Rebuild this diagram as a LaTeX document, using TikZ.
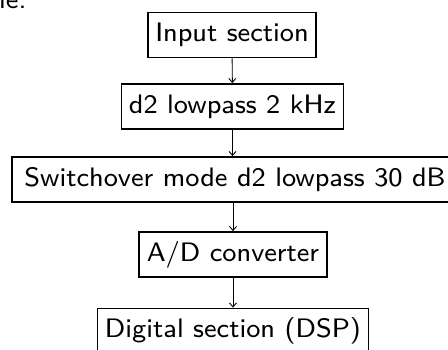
\documentclass[tikz,border=0pt]{standalone}
\usepackage{fontspec}
\usetikzlibrary{arrows.meta}
% Latin Modern Sans, 8pt optical design (wider letters), set large
\newfontfamily\stagefont{lmsans8-regular.otf}
\begin{document}
\begin{tikzpicture}[x=1pt,y=-1pt,
  stage/.style={draw, line width=1.8pt, minimum height=45pt, inner xsep=7.5pt,
    font=\stagefont\fontsize{26.7}{32}\selectfont},
  flow/.style={line width=0.9pt, -{Straight Barb[length=4pt,width=7pt]}}]
\useasboundingbox (0,0) rectangle (448,349);
\clip (0,0) rectangle (448,349);
\node[anchor=base west, inner sep=0pt, font=\stagefont\fontsize{26.7}{32}\selectfont] (prev) at (-1,8) {le.};
\node[stage] (in)  at (232,35)    {Input section};
\node[stage] (lp)  at (232.5,106.5) {d2 lowpass 2 kHz};
\node[stage, minimum width=446pt] (sw) at (235,179.5) {Switchover mode d2 lowpass 30 dB};
\node[stage] (ad)  at (233,254.5) {A/D converter};
\node[stage] (dsp) at (233,331)   {Digital section (DSP)};
\draw[flow] (in) -- (lp);
\draw[flow] (lp) -- (lp |- sw.north);
\draw[flow] (ad |- sw.south) -- (ad);
\draw[flow] (ad) -- (dsp);
\end{tikzpicture}
\end{document}
